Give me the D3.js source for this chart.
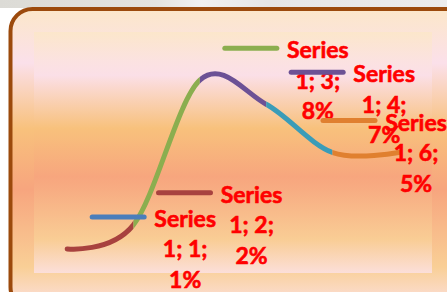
<!DOCTYPE html>
<html>
<head>
<meta charset="utf-8">
<script src="https://cdn.jsdelivr.net/npm/d3@7"></script>
<style>
  body { margin: 0; background: #ffffff; }
  svg { display: block; }
</style>
</head>
<body>
<div id="chart"></div>
<script>
var width = 447;
var height = 292;

// chart data
var seriesName = "Series 1";
var categories = ["1", "2", "3", "4", "5", "6"];
var values = [1, 2, 8, 7, 5, 5];
var showLabel = [true, true, true, true, false, true];
var pointColors = ["#4a7ebb", "#a8423f", "#8bae4f", "#6c5195", "#3a9cb8", "#e0802f"];

var plot = { "left": 34, "right": 432, "top": 32, "bottom": 273 };

var svg = d3.select("#chart")
              .append("svg")
              .attr("width", width)
              .attr("height", height);

var defs = svg.append("defs");

// peach gradient used for chart area and plot area
function peach(id) {
  var g = defs.append("linearGradient")
              .attr("id", id)
              .attr("x1", 0).attr("y1", 0)
              .attr("x2", 0).attr("y2", 1);
  var stops = [[0, "#fce7c9"], [0.18, "#fbe0ea"], [0.4, "#f8c17c"],
               [0.6, "#f7a57e"], [0.86, "#f9cf96"], [1, "#fce1e4"]];
  stops.forEach(function(s) {
    g.append("stop").attr("offset", s[0]).attr("stop-color", s[1]);
  });
}
peach("outerGrad");
peach("plotGrad");

var topGrad = defs.append("linearGradient")
              .attr("id", "topGrad")
              .attr("x1", 0).attr("x2", 1).attr("y1", 0).attr("y2", 0);
[[0, "#dcdbd6"], [0.35, "#e4e3df"], [0.45, "#f1f1f1"], [0.6, "#e6e6e6"], [1, "#ececec"]]
  .forEach(function(s) { topGrad.append("stop").attr("offset", s[0]).attr("stop-color", s[1]); });

svg.append("rect")
    .attr("x", 0).attr("y", 0)
    .attr("width", width).attr("height", 8)
    .attr("fill", "url(#topGrad)");

// chart area
svg.append("rect")
    .attr("x", 10.5).attr("y", 9)
    .attr("width", 460).attr("height", 300)
    .attr("rx", 22).attr("ry", 22)
    .attr("fill", "url(#outerGrad)")
    .attr("stroke", "#9c4a0c")
    .attr("stroke-width", 4);

// plot area
svg.append("rect")
    .attr("x", plot.left).attr("y", plot.top)
    .attr("width", plot.right - plot.left)
    .attr("height", plot.bottom - plot.top)
    .attr("fill", "url(#plotGrad)")
    .attr("opacity", 0.85);

var scaleX = d3.scalePoint().domain(categories).range([plot.left, plot.right]).padding(0.5);
var scaleY = d3.scaleLinear().domain([0, 10]).range([plot.bottom, plot.top]);

var data = categories.map(function(c, i) {
  return { cat: c, value: values[i], idx: i };
});

var line = d3.line()
              .x(function(d) { return scaleX(d.cat); })
              .y(function(d) { return scaleY(d.value); })
              .curve(d3.curveCardinal.tension(0));

// one clipped copy of the smooth line per segment, coloured by its end point
data.forEach(function(d, i) {
  if (i === 0) return;
  var x0 = scaleX(categories[i - 1]);
  var x1 = scaleX(categories[i]);
  var pad0 = i === 1 ? 10 : 0;
  var pad1 = i === data.length - 1 ? 10 : 0;
  defs.append("clipPath")
      .attr("id", "seg" + i)
      .append("rect")
      .attr("x", x0 - pad0).attr("y", 0)
      .attr("width", x1 - x0 + pad0 + pad1).attr("height", height);

  svg.append("path")
      .datum(data)
      .attr("d", line)
      .attr("fill", "none")
      .attr("stroke", pointColors[i])
      .attr("stroke-width", 5)
      .attr("stroke-linecap", "round")
      .attr("clip-path", "url(#seg" + i + ")");
});

// data labels with legend keys
var boxW = 124;
data.forEach(function(d, i) {
  if (!showLabel[i]) return;
  var px = scaleX(d.cat);
  var py = scaleY(d.value);
  var left = Math.min(px + 25, width - boxW);
  var keyY = py - 32;

  svg.append("line")
      .attr("x1", left).attr("x2", left + 52)
      .attr("y1", keyY).attr("y2", keyY)
      .attr("stroke", pointColors[i])
      .attr("stroke-width", 5)
      .attr("stroke-linecap", "round");

  var lines = [seriesName.split(" ")[0], seriesName.split(" ")[1] + "; " + d.cat + ";", d.value + "%"];
  var cx = left + 93;
  lines.forEach(function(t, k) {
    svg.append("text")
        .attr("x", cx)
        .attr("y", keyY + 10 + k * 30.5)
        .attr("text-anchor", "middle")
        .attr("font-family", "Lato, 'Open Sans', sans-serif")
        .attr("font-weight", "bold")
        .attr("font-size", 23)
        .attr("fill", "#ff0000")
        .attr("stroke", "#ff0000")
        .attr("stroke-width", 0.6)
        .text(t);
  });
});
</script>
</body>
</html>
